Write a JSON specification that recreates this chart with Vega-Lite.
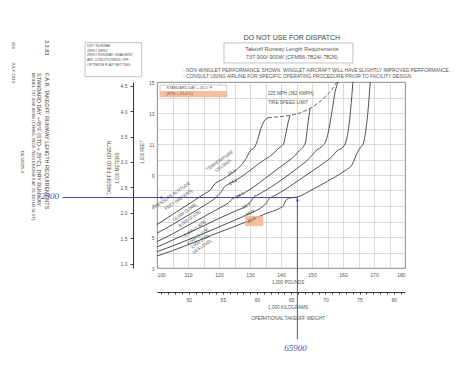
{
 "$schema": "https://vega.github.io/schema/vega-lite/v6.json",
 "width": 248,
 "height": 186,
 "autosize": {"type": "none"},
 "padding": {"left": 157, "top": 82, "right": 55, "bottom": 106},
 "background": "#ffffff",
 "config": {"view": {"stroke": "#444", "strokeWidth": 0.9}, "font": "Liberation Sans Narrow, Liberation Sans, sans-serif"},
 "datasets": {
  "curves": [
   {"alt":"10000","w":100,"l":5.8},{"alt":"10000","w":105,"l":6.45},{"alt":"10000","w":110,"l":7.1},{"alt":"10000","w":115,"l":7.75},{"alt":"10000","w":117.5,"l":8.1},{"alt":"10000","w":118.5,"l":8.4},{"alt":"10000","w":119.5,"l":8.55},{"alt":"10000","w":121,"l":8.7},{"alt":"10000","w":124,"l":9.1},{"alt":"10000","w":127,"l":9.6},{"alt":"10000","w":129,"l":10.15},{"alt":"10000","w":130,"l":10.55},{"alt":"10000","w":131.5,"l":10.8},{"alt":"10000","w":132.5,"l":11.3},{"alt":"10000","w":133.5,"l":12.0},{"alt":"10000","w":134.5,"l":12.45},{"alt":"10000","w":135.8,"l":12.7},
   {"alt":"8000","w":100,"l":5.25},{"alt":"8000","w":105,"l":5.8},{"alt":"8000","w":110,"l":6.4},{"alt":"8000","w":115,"l":7.0},{"alt":"8000","w":119,"l":7.55},{"alt":"8000","w":120.5,"l":7.85},{"alt":"8000","w":121.8,"l":8.25},{"alt":"8000","w":123,"l":8.4},{"alt":"8000","w":126,"l":8.72},{"alt":"8000","w":130,"l":9.3},{"alt":"8000","w":134,"l":9.9},{"alt":"8000","w":137,"l":10.3},{"alt":"8000","w":138.6,"l":10.6},{"alt":"8000","w":140,"l":10.85},{"alt":"8000","w":140.8,"l":11.0},{"alt":"8000","w":141.5,"l":11.6},{"alt":"8000","w":142.2,"l":12.3},{"alt":"8000","w":142.9,"l":12.85},
   {"alt":"6000","w":100,"l":4.7},{"alt":"6000","w":105,"l":5.2},{"alt":"6000","w":110,"l":5.75},{"alt":"6000","w":115,"l":6.3},{"alt":"6000","w":120,"l":6.85},{"alt":"6000","w":123,"l":7.2},{"alt":"6000","w":124.3,"l":7.45},{"alt":"6000","w":125.5,"l":7.58},{"alt":"6000","w":127,"l":7.72},{"alt":"6000","w":131,"l":8.2},{"alt":"6000","w":135,"l":8.8},{"alt":"6000","w":139,"l":9.4},{"alt":"6000","w":142,"l":9.85},{"alt":"6000","w":144.5,"l":10.25},{"alt":"6000","w":146,"l":10.6},{"alt":"6000","w":147.3,"l":10.85},{"alt":"6000","w":148,"l":11.2},{"alt":"6000","w":148.6,"l":12.2},{"alt":"6000","w":149.4,"l":13.3},
   {"alt":"4000","w":100,"l":4.35},{"alt":"4000","w":105,"l":4.8},{"alt":"4000","w":110,"l":5.25},{"alt":"4000","w":115,"l":5.72},{"alt":"4000","w":120,"l":6.2},{"alt":"4000","w":125,"l":6.65},{"alt":"4000","w":129,"l":7.05},{"alt":"4000","w":130.3,"l":7.3},{"alt":"4000","w":131.3,"l":7.6},{"alt":"4000","w":132.5,"l":7.72},{"alt":"4000","w":137,"l":8.25},{"alt":"4000","w":141,"l":8.8},{"alt":"4000","w":145,"l":9.4},{"alt":"4000","w":149,"l":10.05},{"alt":"4000","w":151.5,"l":10.6},{"alt":"4000","w":153.5,"l":10.9},{"alt":"4000","w":154.5,"l":11.2},{"alt":"4000","w":155.5,"l":12.0},{"alt":"4000","w":156.6,"l":13.3},{"alt":"4000","w":157.5,"l":14.4},{"alt":"4000","w":158.4,"l":15},
   {"alt":"2000","w":100,"l":4.05},{"alt":"2000","w":105,"l":4.42},{"alt":"2000","w":110,"l":4.82},{"alt":"2000","w":115,"l":5.22},{"alt":"2000","w":120,"l":5.65},{"alt":"2000","w":125,"l":6.08},{"alt":"2000","w":130,"l":6.53},{"alt":"2000","w":134,"l":6.95},{"alt":"2000","w":135.3,"l":7.2},{"alt":"2000","w":136.3,"l":7.5},{"alt":"2000","w":137.5,"l":7.62},{"alt":"2000","w":142,"l":8.15},{"alt":"2000","w":146,"l":8.7},{"alt":"2000","w":150,"l":9.25},{"alt":"2000","w":154,"l":9.8},{"alt":"2000","w":156.5,"l":10.2},{"alt":"2000","w":158,"l":10.55},{"alt":"2000","w":160,"l":10.8},{"alt":"2000","w":161,"l":11.2},{"alt":"2000","w":161.8,"l":12.0},{"alt":"2000","w":162.5,"l":13.3},{"alt":"2000","w":163.2,"l":15},
   {"alt":"0","w":100,"l":3.77},{"alt":"0","w":105,"l":4.12},{"alt":"0","w":110,"l":4.5},{"alt":"0","w":115,"l":4.9},{"alt":"0","w":120,"l":5.3},{"alt":"0","w":125,"l":5.68},{"alt":"0","w":130,"l":6.07},{"alt":"0","w":135,"l":6.5},{"alt":"0","w":139.5,"l":6.85},{"alt":"0","w":140.7,"l":7.0},{"alt":"0","w":141.8,"l":7.42},{"alt":"0","w":143,"l":7.52},{"alt":"0","w":145.3,"l":7.58},{"alt":"0","w":150,"l":8.05},{"alt":"0","w":155,"l":8.6},{"alt":"0","w":160,"l":9.2},{"alt":"0","w":163,"l":9.7},{"alt":"0","w":164.5,"l":10.4},{"alt":"0","w":165.5,"l":10.75},{"alt":"0","w":166.5,"l":11.0},{"alt":"0","w":167.3,"l":11.8},{"alt":"0","w":168,"l":13.0},{"alt":"0","w":168.8,"l":15}
  ],
  "tire": [
   {"w":135.8,"l":12.7},{"w":139,"l":12.75},{"w":142.9,"l":12.85},{"w":146,"l":13.0},{"w":149.4,"l":13.3},{"w":152,"l":13.65},{"w":154.5,"l":14.1},{"w":156.5,"l":14.55},{"w":158,"l":15.0}
  ]
 },
 "resolve": {"scale": {"x": "independent", "y": "independent"}},
 "layer": [
  {
   "encoding": {
    "x": {"field": "w", "type": "quantitative", "scale": {"domain": [100, 180], "nice": false, "zero": false},
     "axis": {"title": null, "values": [100,105,110,115,120,125,130,135,140,145,150,155,160,165,170,175,180], "labelExpr": "datum.value % 10 === 0 ? datum.label : ''", "grid": true, "gridColor": "#c2c2c2", "gridWidth": 0.6, "tickSize": 0, "domain": false, "labelPadding": 4, "labelFontSize": 5, "labelColor": "#555"}},
    "y": {"field": "l", "type": "quantitative", "scale": {"domain": [3, 15], "nice": false, "zero": false},
     "axis": {"title": null, "values": [3,4,5,6,7,8,9,10,11,12,13,14,15], "labelExpr": "datum.value % 2 === 1 ? datum.label : ''", "grid": true, "gridColor": "#c2c2c2", "gridWidth": 0.6, "tickSize": 0, "domain": false, "labelPadding": 3, "labelFontSize": 5, "labelColor": "#555"}}
   },
   "layer": [
    {"data": {"name": "curves"}, "mark": {"type": "line", "interpolate": "monotone", "color": "#3c3c3c", "strokeWidth": 0.9}, "encoding": {"detail": {"field": "alt"}}},
    {"data": {"name": "tire"}, "mark": {"type": "line", "interpolate": "monotone", "color": "#555", "strokeWidth": 0.9, "strokeDash": [4, 2]}, "encoding": {}},
    {"data": {"values": [{"w": 100.97, "w2": 122.5, "l": 14.81, "l2": 14.05}]}, "mark": {"type": "rect", "fill": "#ffffff", "stroke": "#aaa", "strokeWidth": 0.6}, "encoding": {"x2": {"field": "w2"}, "y2": {"field": "l2"}}},
    {"data": {"values": [{"w": 100.97, "w2": 122.5, "l": 14.42, "l2": 14.05}, {"w": 128.4, "w2": 134.3, "l": 6.35, "l2": 5.7}]}, "mark": {"type": "rect", "fill": "#f4ae86", "opacity": 0.8}, "encoding": {"x2": {"field": "w2"}, "y2": {"field": "l2"}}},
    {"data": {"values": [{"w": 121.6, "w2": 163.2, "l": 17.52, "l2": 16.23}, {"w": 76.8, "w2": 95.06, "l": 17.54, "l2": 15.34}]}, "mark": {"type": "rect", "fill": "#ffffff", "fillOpacity": 0, "stroke": "#999", "strokeWidth": 0.6}, "encoding": {"x2": {"field": "w2"}, "y2": {"field": "l2"}}},
    {"data": {"values": [{"t": "DO NOT USE FOR DISPATCH", "w": 143.5, "l": 17.84}]}, "mark": {"type": "text", "fontSize": 7, "color": "#444"}, "encoding": {"text": {"field": "t"}}},
    {"data": {"values": [{"t": "Takeoff Runway Length Requirements", "w": 143.5, "l": 17.13}, {"t": "737-900/-900W (CFM56-7B24/-7B26)", "w": 143.5, "l": 16.61}]}, "mark": {"type": "text", "fontSize": 5.5, "color": "#555"}, "encoding": {"text": {"field": "t"}}},
    {"data": {"values": [{"t": "- NON-WINGLET PERFORMANCE SHOWN. WINGLET AIRCRAFT WILL HAVE SLIGHTLY IMPROVED PERFORMANCE.", "w": 108.4, "l": 15.71}, {"t": "- CONSULT USING AIRLINE FOR SPECIFIC OPERATING PROCEDURE PRIOR TO FACILITY DESIGN.", "w": 108.4, "l": 15.32}]}, "mark": {"type": "text", "fontSize": 4.9, "align": "left", "color": "#555"}, "encoding": {"text": {"field": "t"}}},
    {"data": {"values": [{"t": "DRY RUNWAY", "w": 77.4, "l": 17.32}, {"t": "ZERO WIND", "w": 77.4, "l": 17.02}, {"t": "ZERO RUNWAY GRADIENT", "w": 77.4, "l": 16.72}, {"t": "AIR CONDITIONING OFF", "w": 77.4, "l": 16.42}, {"t": "OPTIMUM FLAP SETTING", "w": 77.4, "l": 16.08}]}, "mark": {"type": "text", "fontSize": 3.6, "align": "left", "color": "#555"}, "encoding": {"text": {"field": "t"}}},
    {"data": {"values": [{"t": "3.3.83", "w": 64.4, "l": 17.71}, {"t": "F.A.R. TAKEOFF RUNWAY LENGTH REQUIREMENTS", "w": 64.4, "l": 15.58}, {"t": "STANDARD DAY +45°F (STD + 25°C), DRY RUNWAY", "w": 62.0, "l": 15.58}]}, "mark": {"type": "text", "fontSize": 5.5, "angle": 90, "align": "left", "baseline": "middle", "color": "#3a3a3a"}, "encoding": {"text": {"field": "t"}}},
    {"data": {"values": [{"t": "MODEL 737-900/-900W (CFM56-7B24/-7B26 ENGINES AT 26,300 LB SLST)", "w": 59.9, "l": 15.58}, {"t": "156", "w": 53.6, "l": 17.6}, {"t": "JULY 2010", "w": 53.6, "l": 16.29}]}, "mark": {"type": "text", "fontSize": 4.3, "angle": 90, "align": "left", "baseline": "middle", "color": "#444"}, "encoding": {"text": {"field": "t"}}},
    {"data": {"values": [{"t": "D6-58325-6", "w": 56.6, "l": 9.84}]}, "mark": {"type": "text", "fontSize": 4.3, "angle": 90, "align": "center", "baseline": "middle", "color": "#444"}, "encoding": {"text": {"field": "t"}}},
    {"data": {"values": [{"t": "TAKEOFF FIELD LENGTH", "w": 84.8, "l": 9.45}, {"t": "1,000 METERS", "w": 87.4, "l": 9.45}, {"t": "1,000 FEET", "w": 95.5, "l": 10.48}]}, "mark": {"type": "text", "fontSize": 4.5, "angle": 270, "align": "center", "baseline": "middle", "color": "#555"}, "encoding": {"text": {"field": "t"}}},
    {"data": {"values": [{"t": "1,000 POUNDS", "w": 142.3, "l": 2.03}, {"t": "1,000 KILOGRAMS", "w": 142.3, "l": 0.42}, {"t": "OPERATIONAL TAKEOFF WEIGHT", "w": 142.3, "l": -0.29}]}, "mark": {"type": "text", "fontSize": 4.6, "color": "#555"}, "encoding": {"text": {"field": "t"}}},
    {"data": {"values": [{"t": "225 MPH (362 KMPH)", "w": 135.8, "l": 14.23}, {"t": "TIRE SPEED LIMIT", "w": 135.8, "l": 13.66}]}, "mark": {"type": "text", "fontSize": 4.6, "align": "left", "color": "#555"}, "encoding": {"text": {"field": "t"}}},
    {"data": {"values": [{"t": "STANDARD DAY + 45.0° F", "w": 103.1, "l": 14.62}, {"t": "(STD + 25.0°C)", "w": 103.1, "l": 14.23}]}, "mark": {"type": "text", "fontSize": 3.8, "align": "left", "color": "#555"}, "encoding": {"text": {"field": "t"}}},
    {"data": {"values": [{"t": "TEMPERATURE", "w": 120.3, "l": 9.9}, {"t": "CELSIUS", "w": 121.4, "l": 9.59}]}, "mark": {"type": "text", "fontSize": 4.3, "angle": -35, "color": "#444"}, "encoding": {"text": {"field": "t"}}},
    {"data": {"values": [{"t": "20.2", "w": 124.1, "l": 9.15}, {"t": "24.2", "w": 124.6, "l": 8.53}, {"t": "28.1", "w": 126.8, "l": 7.67}, {"t": "32.1", "w": 128.9, "l": 7.0}, {"t": "36.0", "w": 130.0, "l": 6.53}, {"t": "40.0", "w": 130.5, "l": 6.06}]}, "mark": {"type": "text", "fontSize": 4.5, "angle": -30, "color": "#444"}, "encoding": {"text": {"field": "t"}}},
    {"data": {"values": [{"t": "PRESSURE ALTITUDE", "w": 104.7, "l": 7.65}, {"t": "FEET (METERS)", "w": 107.1, "l": 7.39}, {"t": "10,000 (3,048)", "w": 109.0, "l": 6.58}, {"t": "8,000 (2,438)", "w": 110.6, "l": 6.16}, {"t": "6,000 (1,829)", "w": 112.3, "l": 5.52}, {"t": "4,000 (1,219)", "w": 113.2, "l": 5.02}, {"t": "2,000 (610)", "w": 113.9, "l": 4.7}, {"t": "SEA LEVEL", "w": 114.7, "l": 4.37}]}, "mark": {"type": "text", "fontSize": 4.3, "angle": -35, "color": "#444"}, "encoding": {"text": {"field": "t"}}},
    {"data": {"values": [{"t": "2300", "w": 68.4, "l": 7.62}]}, "mark": {"type": "text", "fontSize": 9, "fontStyle": "italic", "font": "Liberation Serif", "align": "right", "color": "#4a55b5"}, "encoding": {"text": {"field": "t"}}},
    {"data": {"values": [{"t": "65900", "w": 144.7, "l": -2.16}]}, "mark": {"type": "text", "fontSize": 9, "fontStyle": "italic", "font": "Liberation Serif", "color": "#4a55b5"}, "encoding": {"text": {"field": "t"}}},
    {"data": {"values": [{"w": 145.3, "l": 7.546, "shape": "up"}]}, "mark": {"type": "point", "shape": "triangle-up", "size": 14, "filled": true, "color": "#3d4aa8", "yOffset": 2}, "encoding": {}},
    {"data": {"values": [{"w": 101.2, "l": 7.546, "shape": "left"}]}, "mark": {"type": "point", "shape": "triangle-left", "size": 14, "filled": true, "color": "#3d4aa8"}, "encoding": {}}
   ]
  },
  {
   "data": {"values": [{"kg": 65.9, "l": 7.546, "l2": -1.6}]},
   "mark": {"type": "rule", "color": "#3d4aa8", "strokeWidth": 1},
   "encoding": {
    "x": {"field": "kg", "type": "quantitative", "scale": {"domain": [45.3592, 81.6466], "nice": false, "zero": false},
     "axis": {"orient": "bottom", "offset": 24, "title": null, "values": [46,47,48,49,50,51,52,53,54,55,56,57,58,59,60,61,62,63,64,65,66,67,68,69,70,71,72,73,74,75,76,77,78,79,80,81], "labelExpr": "datum.value % 5 === 0 ? datum.label : ''", "tickSize": 2, "tickColor": "#444", "domainColor": "#333", "domainWidth": 1, "labelFontSize": 5, "labelPadding": 3, "labelColor": "#555", "grid": false}},
    "y": {"field": "l", "type": "quantitative", "scale": {"domain": [3, 15], "nice": false, "zero": false}, "axis": null},
    "y2": {"field": "l2"}
   }
  },
  {
   "data": {"values": [{"w": 69.5, "w2": 145.3, "m": 2.3}]},
   "mark": {"type": "rule", "color": "#3d4aa8", "strokeWidth": 1},
   "encoding": {
    "x": {"field": "w", "type": "quantitative", "scale": {"domain": [100, 180], "nice": false, "zero": false}, "axis": null},
    "x2": {"field": "w2"},
    "y": {"field": "m", "type": "quantitative", "scale": {"domain": [0.9144, 4.572], "nice": false, "zero": false},
     "axis": {"orient": "left", "offset": 24, "title": null, "values": [1, 1.5, 2, 2.5, 3, 3.5, 4, 4.5], "format": ".1f", "tickSize": 3, "tickColor": "#444", "domainColor": "#333", "domainWidth": 1, "labelFontSize": 5, "labelPadding": 3, "labelColor": "#555", "grid": false}}
   }
  }
 ]
}
